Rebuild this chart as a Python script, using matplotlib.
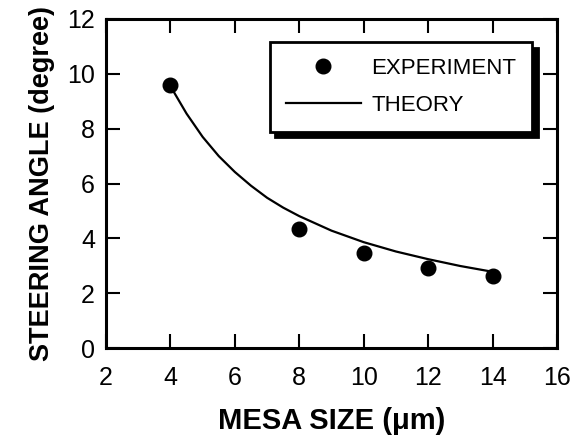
import matplotlib
matplotlib.use('Agg')
import matplotlib.pyplot as plt

plt.rcParams['font.family'] = ['Liberation Sans', 'DejaVu Sans']

# measured points
exp_x = [4, 8, 10, 12, 14]
exp_y = [9.6, 4.33, 3.48, 2.93, 2.61]

# theory curve
th_x = [4.1, 4.5, 5, 5.5, 6, 6.5, 7, 7.5, 8, 9, 10, 11, 12, 13, 14]
th_y = [9.35, 8.55, 7.7, 7.0, 6.42, 5.92, 5.48, 5.12, 4.81, 4.28, 3.86, 3.52, 3.24, 2.99, 2.78]

xticks = [2, 4, 6, 8, 10, 12, 14, 16]
yticks = [0, 2, 4, 6, 8, 10, 12]

fig = plt.figure(figsize=(5.76, 4.41), dpi=100, facecolor='white')
ax = fig.add_axes([106/576, 1 - 348/441, 451/576, 329/441])

ax.plot(exp_x, exp_y, 'o', color='black', ms=10.5, label='EXPERIMENT', zorder=3)
ax.plot(th_x, th_y, '-', color='black', lw=1.6, label='THEORY')

ax.set_xlim(2, 16)
ax.set_ylim(0, 12)
ax.set_xticks(xticks)
ax.set_yticks(yticks)
ax.tick_params(direction='in', length=10, width=1.5, labelsize=18,
               top=True, right=True)
ax.tick_params(axis='x', pad=13)
ax.tick_params(axis='y', pad=8)
for s in ax.spines.values():
    s.set_linewidth(2.2)

ax.set_xlabel('MESA SIZE (\u03bcm)', fontsize=21, fontweight='bold', labelpad=12)
ax.set_ylabel('STEERING ANGLE (degree)', fontsize=19.5, fontweight='bold', labelpad=9)

leg = ax.legend(loc='upper right', bbox_to_anchor=(0.945, 0.93), fontsize=16,
                frameon=True, fancybox=False, edgecolor='black', framealpha=1,
                shadow={'ox': 4, 'oy': -4, 'color': 'black', 'alpha': 1},
                handlelength=3.4, handletextpad=0.45, borderpad=0.72,
                labelspacing=0.7, borderaxespad=0)
leg.get_frame().set_linewidth(2)

fig.savefig('out.png', dpi=100, facecolor='white')
